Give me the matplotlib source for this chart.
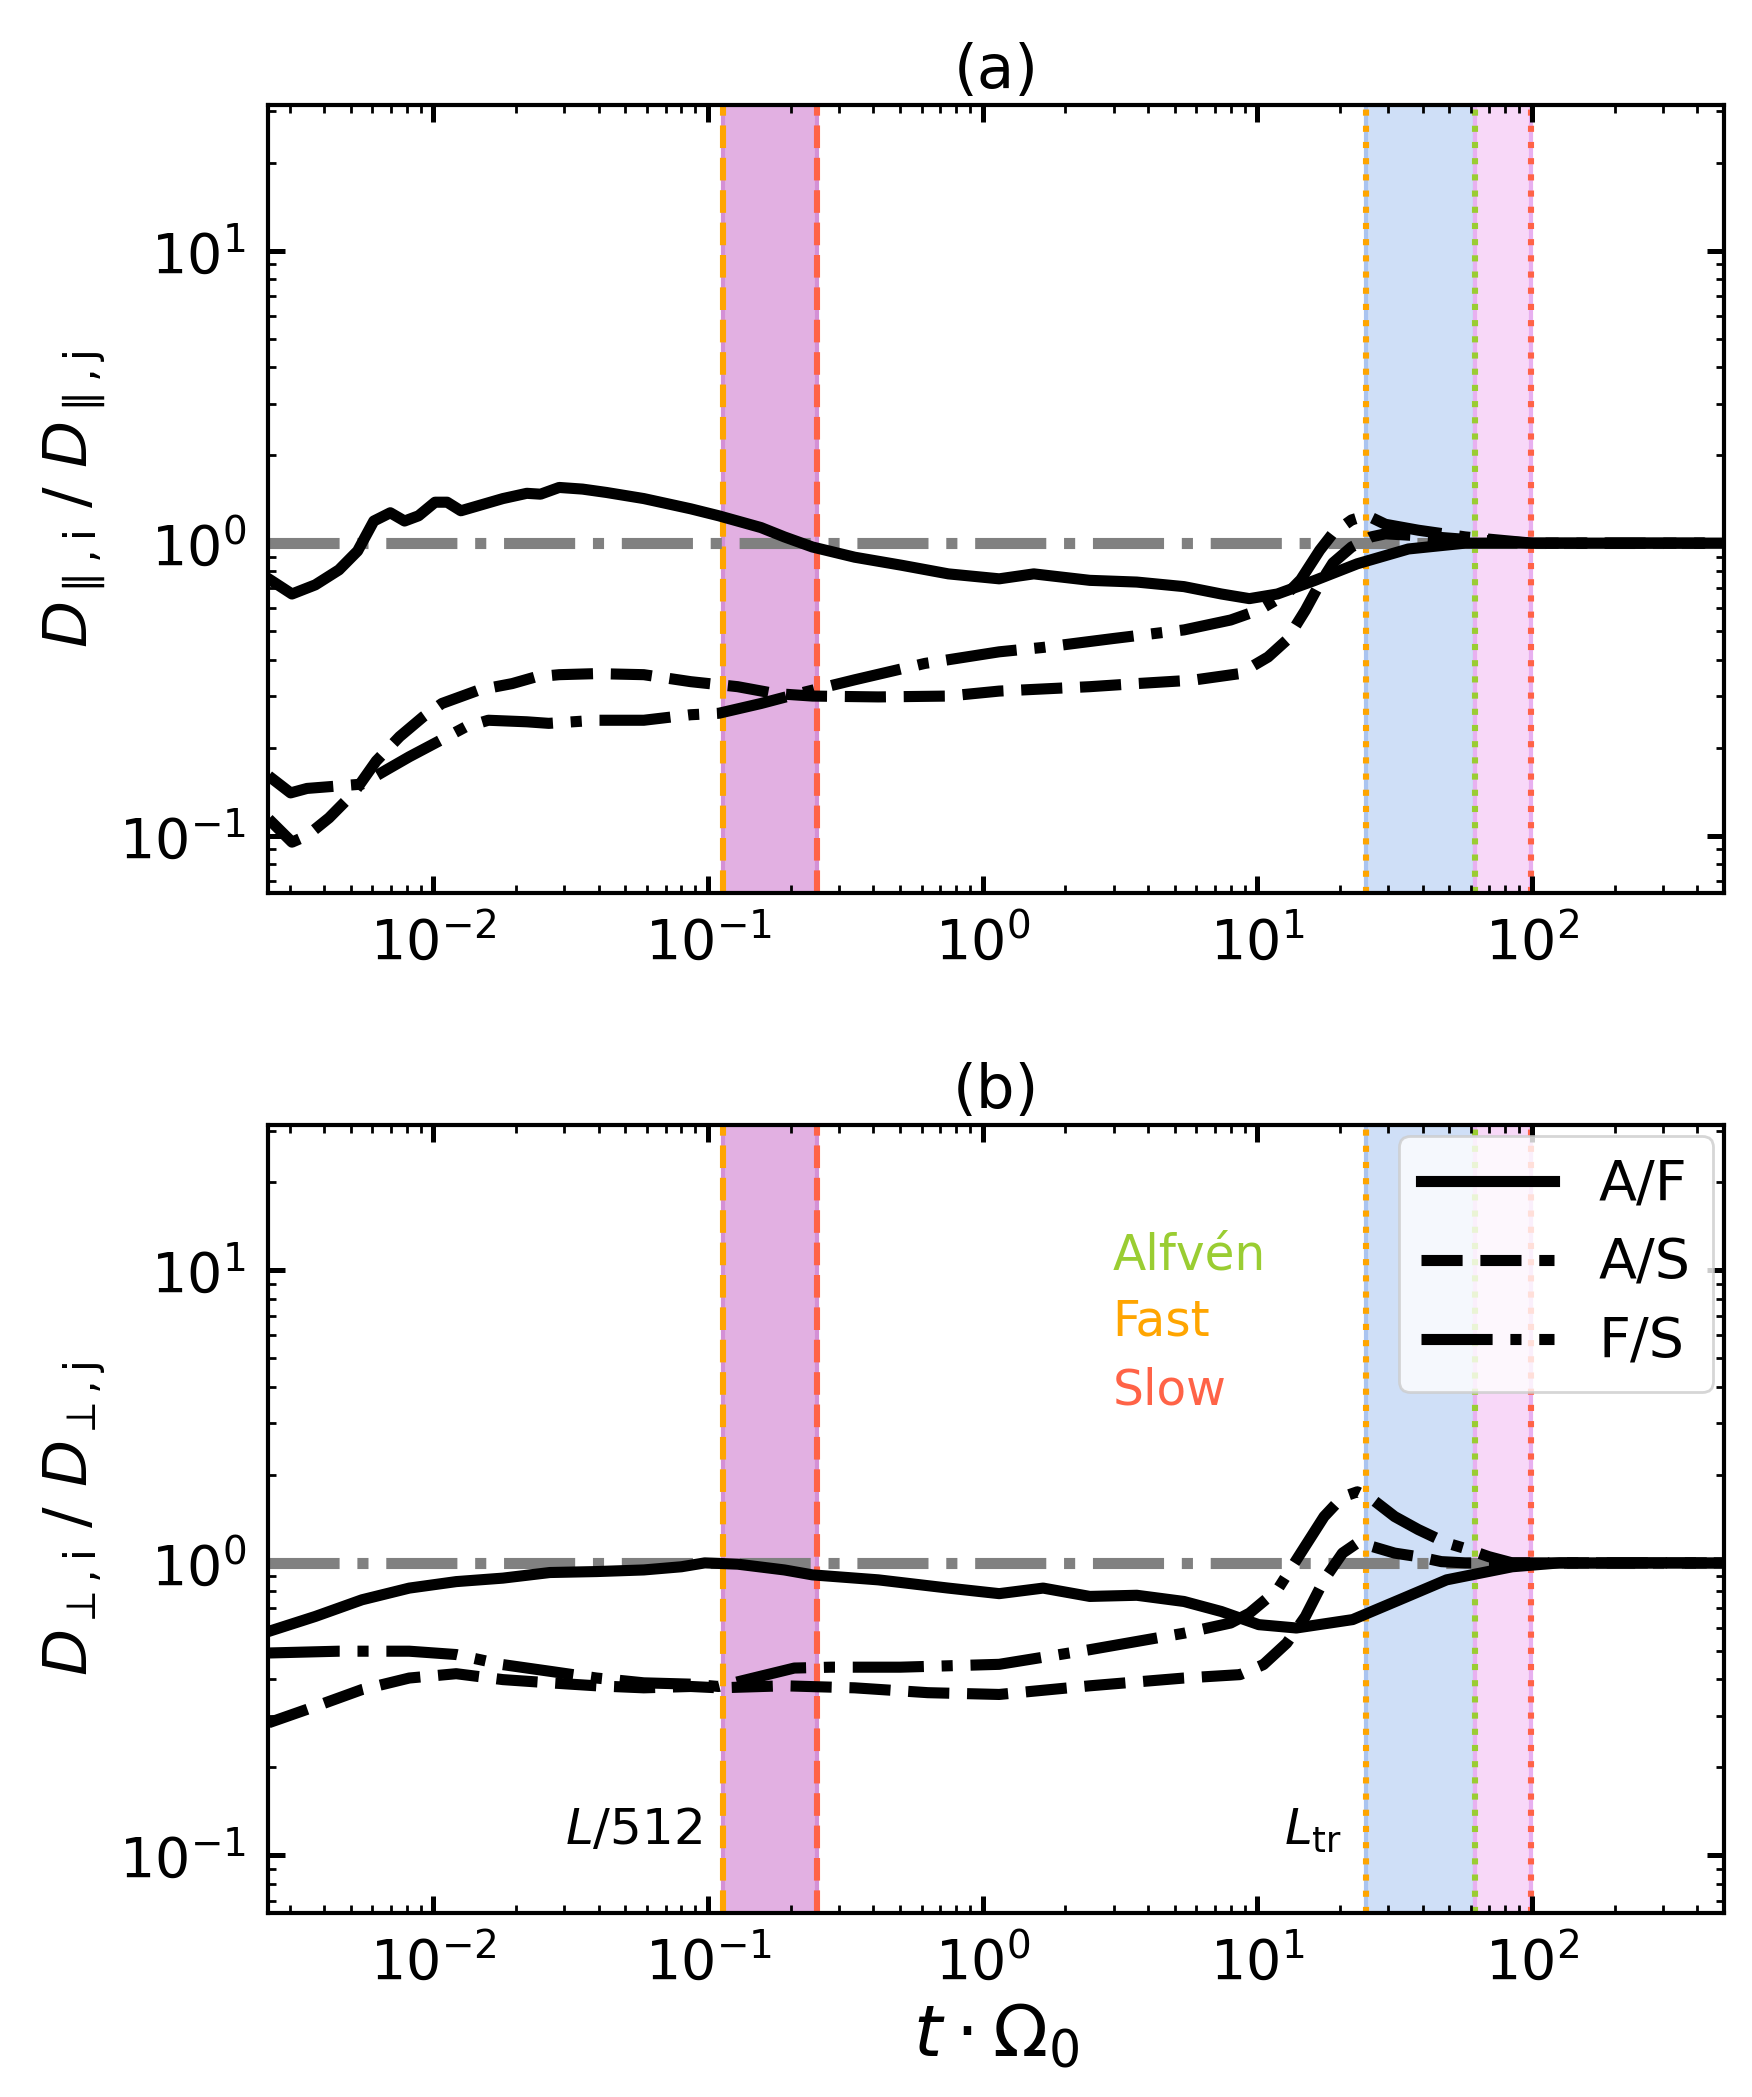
import matplotlib.pyplot as plt
import numpy as np

# ---- values: log10(t * Omega_0) and the diffusion ratio ----
# panel (a): parallel diffusion
logt_a_af = [-2.60, -2.515, -2.43, -2.344, -2.276, -2.217, -2.157, -2.105, -2.054, -1.994,
             -1.95, -1.90, -1.747, -1.66, -1.61, -1.542, -1.457, -1.37, -1.234, -1.063,
             -0.961, -0.807, -0.722, -0.62, -0.466, -0.295, -0.125, 0.06, 0.186, 0.39,
             0.561, 0.733, 0.869, 0.971, 1.073, 1.21, 1.364, 1.55, 1.757, 2.0, 2.3, 2.7]
d_a_af = [0.755, 0.67, 0.72, 0.81, 0.94, 1.19, 1.27, 1.19, 1.24, 1.38,
          1.38, 1.29, 1.42, 1.48, 1.47, 1.55, 1.53, 1.49, 1.42, 1.31,
          1.24, 1.13, 1.05, 0.97, 0.895, 0.84, 0.785, 0.755, 0.785, 0.746,
          0.736, 0.71, 0.67, 0.646, 0.67, 0.746, 0.85, 0.955, 1.0, 1.0, 1.0, 1.0]

logt_a_as = [-2.60, -2.515, -2.46, -2.38, -2.29, -2.208, -2.123, -2.037, -1.969, -1.833,
             -1.713, -1.627, -1.542, -1.406, -1.234, -1.063, -0.892, -0.756, -0.62, -0.38,
             -0.125, 0.06, 0.39, 0.561, 0.765, 0.936, 1.039, 1.107, 1.175, 1.227,
             1.275, 1.343, 1.414, 1.466, 1.586, 1.757, 2.0, 2.3, 2.7]
d_a_as = [0.114, 0.095, 0.10, 0.115, 0.14, 0.18, 0.218, 0.255, 0.283, 0.315,
          0.331, 0.349, 0.355, 0.358, 0.355, 0.336, 0.323, 0.306, 0.30, 0.298,
          0.30, 0.312, 0.323, 0.331, 0.34, 0.358, 0.408, 0.466, 0.59, 0.726,
          0.855, 0.97, 1.05, 1.076, 1.06, 1.03, 1.0, 1.0, 1.0]

logt_a_fs = [-2.60, -2.52, -2.46, -2.26, -2.17, -2.088, -1.986, -1.884, -1.80, -1.66,
             -1.58, -1.406, -1.234, -1.063, -0.961, -0.807, -0.67, -0.466, -0.21, 0.06,
             0.22, 0.476, 0.733, 0.903, 1.005, 1.107, 1.158, 1.227, 1.275, 1.343,
             1.398, 1.466, 1.586, 1.757, 1.9, 2.0, 2.3, 2.7]
d_a_fs = [0.16, 0.14, 0.145, 0.15, 0.168, 0.186, 0.209, 0.235, 0.248, 0.245,
          0.242, 0.248, 0.248, 0.259, 0.262, 0.283, 0.306, 0.341, 0.388, 0.425,
          0.44, 0.472, 0.505, 0.546, 0.59, 0.67, 0.75, 0.945, 1.08, 1.2,
          1.245, 1.16, 1.107, 1.05, 1.02, 1.0, 1.0, 1.0]

# panel (b): perpendicular diffusion
logt_b_af = [-2.60, -2.43, -2.26, -2.088, -1.917, -1.747, -1.576, -1.406, -1.234, -1.097,
             -1.012, -0.892, -0.722, -0.62, -0.38, -0.125, 0.06, 0.22, 0.39, 0.561,
             0.733, 0.869, 1.005, 1.142, 1.347, 1.518, 1.689, 1.928, 2.1, 2.4, 2.7]
d_b_af = [0.583, 0.656, 0.748, 0.82, 0.863, 0.887, 0.927, 0.934, 0.946, 0.97,
          1.0, 0.99, 0.946, 0.91, 0.875, 0.82, 0.785, 0.82, 0.768, 0.775,
          0.738, 0.682, 0.615, 0.599, 0.64, 0.748, 0.875, 0.97, 1.0, 1.0, 1.0]

logt_b_as = [-2.60, -2.43, -2.26, -2.088, -1.917, -1.747, -1.576, -1.406, -1.234, -1.063,
             -0.961, -0.722, -0.466, -0.2, 0.06, 0.39, 0.733, 0.937, 1.022, 1.107,
             1.175, 1.243, 1.31, 1.364, 1.415, 1.5, 1.586, 1.67, 1.757, 2.0, 2.3, 2.7]
d_b_as = [0.284, 0.323, 0.369, 0.404, 0.418, 0.399, 0.389, 0.38, 0.374, 0.378,
          0.374, 0.38, 0.374, 0.36, 0.355, 0.38, 0.404, 0.415, 0.449, 0.532,
          0.656, 0.875, 1.08, 1.17, 1.14, 1.08, 1.05, 1.01, 1.0, 1.0, 1.0, 1.0]

logt_b_fs = [-2.60, -2.344, -2.088, -1.917, -1.747, -1.576, -1.406, -1.234, -1.063, -0.961,
             -0.807, -0.686, -0.552, -0.3, 0.06, 0.39, 0.733, 0.903, 0.971, 1.073,
             1.158, 1.243, 1.31, 1.364, 1.415, 1.5, 1.586, 1.689, 1.757, 1.843,
             1.928, 2.1, 2.4, 2.7]
d_b_fs = [0.492, 0.499, 0.499, 0.486, 0.449, 0.426, 0.404, 0.389, 0.385, 0.378,
          0.41, 0.437, 0.44, 0.44, 0.45, 0.505, 0.575, 0.623, 0.673, 0.809,
          1.08, 1.44, 1.68, 1.75, 1.66, 1.44, 1.30, 1.17, 1.12, 1.05,
          1.0, 1.0, 1.0, 1.0]

# characteristic times (L/512 and L_tr crossing times)
t_small_fast = 0.113
t_small_slow = 0.25
t_tr_fast = 24.8
t_tr_alfven = 62.0
t_tr_slow = 99.0

labels = ['A/F', 'A/S', 'F/S']
styles = ['-', '--', '-.']
c_alf, c_fast, c_slow = 'yellowgreen', 'orange', 'tomato'

panels = [
    ('(a)', r'$D_{\parallel,\mathrm{i}}\ /\ D_{\parallel,\mathrm{j}}$',
     [(logt_a_af, d_a_af), (logt_a_as, d_a_as), (logt_a_fs, d_a_fs)]),
    ('(b)', r'$D_{\perp,\mathrm{i}}\ /\ D_{\perp,\mathrm{j}}$',
     [(logt_b_af, d_b_af), (logt_b_as, d_b_as), (logt_b_fs, d_b_fs)]),
]

fig = plt.figure(figsize=(8.76, 10.485), dpi=200)
ax_a = fig.add_axes([0.153, 0.574, 0.831, 0.376])
ax_b = fig.add_axes([0.153, 0.0877, 0.831, 0.376])

for ax, (title, ylab, curves) in zip([ax_a, ax_b], panels):
    # shaded ranges
    ax.axvspan(t_small_fast, t_small_slow, facecolor='#e2b0e2', edgecolor='#d490d6', lw=1.5, zorder=0)
    ax.axvspan(t_tr_fast, t_tr_alfven, facecolor='#cfdff7', edgecolor='#aac4f0', lw=1.5, zorder=0)
    ax.axvspan(t_tr_alfven, t_tr_slow, facecolor='#f8d8f8', edgecolor='#e8b0f0', lw=1.5, zorder=0)

    ax.axvline(t_small_fast, color=c_fast, ls='--', lw=2.2, zorder=1)
    ax.axvline(t_small_slow, color=c_slow, ls='--', lw=2.2, zorder=1)
    ax.axvline(t_tr_fast, color=c_fast, ls=':', lw=2.2, zorder=1)
    ax.axvline(t_tr_alfven, color=c_alf, ls=':', lw=2.2, zorder=1)
    ax.axvline(t_tr_slow, color=c_slow, ls=':', lw=2.2, zorder=1)

    ax.axhline(1.0, color='gray', ls='-.', lw=4, zorder=2)

    for (lt, d), ls, lab in zip(curves, styles, labels):
        ax.plot(np.power(10.0, lt), d, color='black', ls=ls, lw=4, label=lab, zorder=3)

    ax.set_xscale('log')
    ax.set_yscale('log')
    ax.set_xlim(2.5e-3, 500)
    ax.set_ylim(0.0635, 31.5)
    ax.set_title(title, fontsize=22)
    ax.set_ylabel(ylab, fontsize=22)
    ax.tick_params(which='both', direction='in', top=True, right=True, labelsize=20)
    ax.tick_params(which='major', length=6, width=1.8, pad=8)
    ax.tick_params(which='minor', length=3, width=1.0)
    for sp in ax.spines.values():
        sp.set_linewidth(1.5)

ax_b.set_xlabel(r'$t\cdot\Omega_0$', fontsize=26)

# annotations in panel (b)
ax_b.text(0.095, 0.109, r'$L/512$', fontsize=18, ha='right', va='baseline')
ax_b.text(20.4, 0.109, r'$L_{\rm tr}$', fontsize=18, ha='right', va='baseline')
ax_b.text(0.58, 0.816, 'Alfvén', color=c_alf, fontsize=17.5, transform=ax_b.transAxes)
ax_b.text(0.58, 0.733, 'Fast', color=c_fast, fontsize=17.5, transform=ax_b.transAxes)
ax_b.text(0.58, 0.645, 'Slow', color=c_slow, fontsize=17.5, transform=ax_b.transAxes)

ax_b.legend(loc='upper right', fontsize=20, handlelength=2.4, borderaxespad=0.2,
            labelspacing=0.45, framealpha=0.8)

fig.savefig('out.png', dpi=200)
